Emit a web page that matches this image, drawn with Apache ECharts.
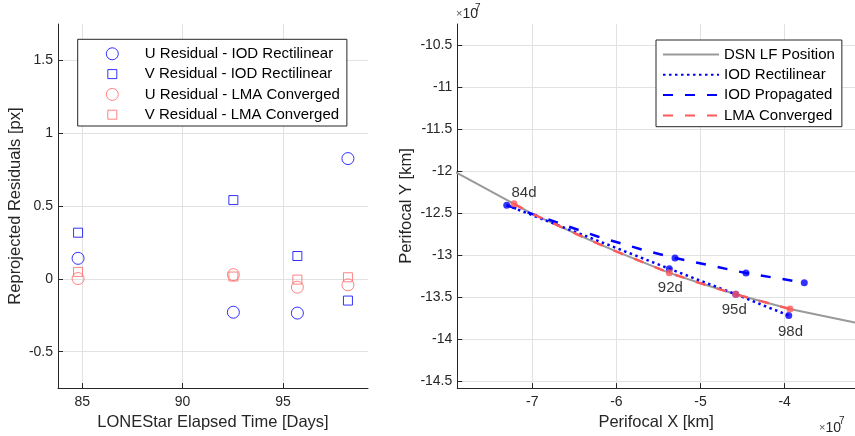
<!DOCTYPE html>
<html><head><meta charset="utf-8">
<script src="https://cdn.jsdelivr.net/npm/echarts@6/dist/echarts.min.js"></script>
<style>html,body{margin:0;padding:0;background:#fff}#c{width:855px;height:436px}</style>
</head><body><div id="c"></div>
<script>
// ---- Left panel: reprojected residuals ----
const days = [84.79, 92.53, 95.72, 98.24];
const uIod = [0.141, -0.229, -0.235, 0.826];
const vIod = [0.317, 0.541, 0.157, -0.149];
const uLma = [0.002, 0.029, -0.057, -0.041];
const vLma = [0.048, 0.016, -0.005, 0.011];
const leftNames = ['U Residual - IOD Rectilinear', 'V Residual - IOD Rectilinear',
                   'U Residual - LMA Converged', 'V Residual - LMA Converged'];

// ---- Right panel: perifocal positions (units of 1e7 km) ----
const dsnX = [-7.92, -7.218, -7.0, -6.334, -5.996, -5.371, -5.0, -4.581, -3.936, -3.581, -3.163, -3.0];
const dsnY = [-12.010, -12.391, -12.510, -12.815, -12.961, -13.213, -13.338, -13.469, -13.644, -13.718, -13.806, -13.84];
const rectX = [-7.304, -5.371, -4.581, -3.951];
const rectY = [-12.407, -13.164, -13.469, -13.722];
const propLineX = [-7.304, -6.215, -5.661, -5.303, -4.459, -3.766];
const propLineY = [-12.407, -12.783, -12.946, -13.037, -13.216, -13.330];
const propPtX = [-5.303, -4.459, -3.766];
const propPtY = [-13.037, -13.216, -13.330];
const lmaLineX = [-7.218, -7.0, -6.334, -5.996, -5.371, -5.0, -4.581, -3.936];
const lmaLineY = [-12.391, -12.510, -12.815, -12.961, -13.213, -13.338, -13.469, -13.644];
const lmaPtX = [-7.218, -5.371, -4.581, -3.936];
const lmaPtY = [-12.391, -13.213, -13.469, -13.644];
const dayLabels = ['84d', '92d', '95d', '98d'];
const rightNames = ['DSN LF Position', 'IOD Rectilinear', 'IOD Propagated', 'LMA Converged'];

const FONT = "'Liberation Sans', Arial, Helvetica, sans-serif";
const AX = '#262626';
const GRID = '#e2e2e2';
const BLUE = '#0000ff';
const RED = '#ff5a5a';
const RED_L = '#ff6464';
const GRAY = '#999999';
const zip = (a, b) => a.map((v, i) => [v, b[i]]);

const labelOffsets = [[10, -11], [1, 15], [-1.5, 16], [0.5, 22.5]];
// legend icons spanning the full 55x12 icon box so the legend layout keeps the box's left edge
const ICON_CIRCLE = 'path://M0,0M55,12M21.5,6A6,6,0,1,1,33.5,6A6,6,0,1,1,21.5,6Z';
const ICON_SQUARE = 'path://M0,0M55,12M23,1.5L32,1.5L32,10.5L23,10.5Z';

function axisCommon(extra) {
  return Object.assign({
    type: 'value',
    axisLine: { show: true, onZero: false, lineStyle: { color: AX, width: 1 } },
    axisTick: { show: true, inside: true, length: 5, lineStyle: { color: AX } },
    splitLine: { show: true, showMinLine: false, showMaxLine: false, lineStyle: { color: GRID, width: 1 } },
    nameLocation: 'middle',
    nameTextStyle: { color: AX, fontSize: 16.5, fontFamily: FONT }
  }, extra);
}
function labels(margin) {
  return { showMinLabel: false, showMaxLabel: false, color: AX, fontSize: 14, fontFamily: FONT, margin: margin };
}

const option = {
  animation: false,
  backgroundColor: '#fff',
  textStyle: { fontFamily: FONT },
  grid: [
    { left: 58, right: 487, top: 24, bottom: 47 },
    { left: 457.3, right: 0, top: 24, bottom: 47 }
  ],
  xAxis: [
    axisCommon({ gridIndex: 0, min: 83.79, max: 99.24, splitNumber: 3,
      name: 'LONEStar Elapsed Time [Days]', nameGap: 25, axisLabel: labels(7) }),
    axisCommon({ gridIndex: 1, min: -7.892, max: -3.163, splitNumber: 5,
      name: 'Perifocal X [km]', nameGap: 25, axisLabel: labels(7) })
  ],
  yAxis: [
    axisCommon({ gridIndex: 0, min: -0.75, max: 1.75, splitNumber: 5,
      name: 'Reprojected Residuals [px]', nameGap: 34, axisLabel: labels(5) }),
    axisCommon({ gridIndex: 1, min: -14.587, max: -10.247, splitNumber: 9,
      name: 'Perifocal Y [km]', nameGap: 42, axisLabel: labels(5) })
  ],
  legend: [
    { data: [
        { name: leftNames[0], icon: ICON_CIRCLE },
        { name: leftNames[1], icon: ICON_SQUARE },
        { name: leftNames[2], icon: ICON_CIRCLE },
        { name: leftNames[3], icon: ICON_SQUARE }
      ],
      orient: 'vertical', left: 77.7, top: 39.3,
      itemWidth: 55, itemHeight: 12, itemGap: 5.3,
      padding: [7, 7, 3.8, 6.6],
      borderColor: AX, borderWidth: 1, backgroundColor: '#fff',
      itemStyle: { borderWidth: 1 },
      textStyle: { color: '#000', fontSize: 15, lineHeight: 15, fontFamily: FONT },
      selectedMode: false },
    { data: rightNames, orient: 'vertical', left: 656, top: 40,
      itemWidth: 56, itemHeight: 14, itemGap: 5.3,
      padding: [7, 7, 3.8, 6],
      borderColor: AX, borderWidth: 1, backgroundColor: '#fff',
      itemStyle: { opacity: 0 },
      textStyle: { color: '#000', fontSize: 15, lineHeight: 15, fontFamily: FONT },
      selectedMode: false }
  ],
  graphic: [
    { type: 'text', left: 456, top: 7, style: { text: '{a|×}{b|10}',
      rich: { a: { fontSize: 11, fill: '#555', fontFamily: FONT }, b: { fontSize: 14, fill: AX, fontFamily: FONT } } } },
    { type: 'text', left: 475, top: 3, style: { text: '7', fontSize: 10, fill: AX, fontFamily: FONT } },
    { type: 'text', left: 819, top: 421, style: { text: '{a|×}{b|10}',
      rich: { a: { fontSize: 11, fill: '#555', fontFamily: FONT }, b: { fontSize: 14, fill: AX, fontFamily: FONT } } } },
    { type: 'text', left: 839, top: 416, style: { text: '7', fontSize: 10, fill: AX, fontFamily: FONT } }
  ],
  series: [
    { type: 'scatter', name: leftNames[0], xAxisIndex: 0, yAxisIndex: 0, data: zip(days, uIod),
      symbol: 'circle', symbolSize: 12,
      itemStyle: { color: 'rgba(0,0,0,0)', borderColor: BLUE, borderWidth: 1 }, emphasis: { disabled: true } },
    { type: 'scatter', name: leftNames[1], xAxisIndex: 0, yAxisIndex: 0, data: zip(days, vIod),
      symbol: 'rect', symbolSize: 9,
      itemStyle: { color: 'rgba(0,0,0,0)', borderColor: BLUE, borderWidth: 1 }, emphasis: { disabled: true } },
    { type: 'scatter', name: leftNames[2], xAxisIndex: 0, yAxisIndex: 0, data: zip(days, uLma),
      symbol: 'circle', symbolSize: 12,
      itemStyle: { color: 'rgba(0,0,0,0)', borderColor: RED_L, borderWidth: 1 }, emphasis: { disabled: true } },
    { type: 'scatter', name: leftNames[3], xAxisIndex: 0, yAxisIndex: 0, data: zip(days, vLma),
      symbol: 'rect', symbolSize: 9,
      itemStyle: { color: 'rgba(0,0,0,0)', borderColor: RED_L, borderWidth: 1 }, emphasis: { disabled: true } },

    { type: 'line', name: rightNames[0], xAxisIndex: 1, yAxisIndex: 1, data: zip(dsnX, dsnY),
      symbol: 'none', z: 1,
      itemStyle: { color: GRAY }, lineStyle: { color: GRAY, width: 2 }, emphasis: { disabled: true } },
    { type: 'line', name: rightNames[1], xAxisIndex: 1, yAxisIndex: 1, data: zip(rectX, rectY),
      symbol: 'none', z: 2,
      itemStyle: { color: BLUE }, lineStyle: { color: BLUE, width: 2.5, type: [2.5, 3.5] }, emphasis: { disabled: true } },
    { type: 'line', name: rightNames[2], xAxisIndex: 1, yAxisIndex: 1, data: zip(propLineX, propLineY),
      symbol: 'none', z: 2,
      itemStyle: { color: BLUE }, lineStyle: { color: BLUE, width: 2.5, type: [10, 12] }, emphasis: { disabled: true } },
    { type: 'line', name: rightNames[3], xAxisIndex: 1, yAxisIndex: 1, data: zip(lmaLineX, lmaLineY),
      symbol: 'none', z: 3,
      itemStyle: { color: RED }, lineStyle: { color: RED, width: 2.5, type: [10, 12] }, emphasis: { disabled: true } },
    { type: 'scatter', name: 'rectPts', xAxisIndex: 1, yAxisIndex: 1, data: zip(rectX, rectY),
      symbol: 'circle', symbolSize: 7, z: 4, itemStyle: { color: BLUE }, emphasis: { disabled: true } },
    { type: 'scatter', name: 'propPts', xAxisIndex: 1, yAxisIndex: 1, data: zip(propPtX, propPtY),
      symbol: 'circle', symbolSize: 7, z: 4, itemStyle: { color: BLUE }, emphasis: { disabled: true } },
    { type: 'scatter', name: 'lmaPts', xAxisIndex: 1, yAxisIndex: 1,
      data: lmaPtX.map((x, i) => ({ value: [x, lmaPtY[i]],
        label: { show: true, formatter: dayLabels[i], position: 'inside', offset: labelOffsets[i] } })),
      symbol: 'circle', symbolSize: 7, z: 5, itemStyle: { color: RED },
      label: { color: '#000', fontSize: 15, fontFamily: FONT },
      emphasis: { disabled: true } }
  ]
};
const chart = echarts.init(document.getElementById('c'));
chart.setOption(option);
</script></body></html>
